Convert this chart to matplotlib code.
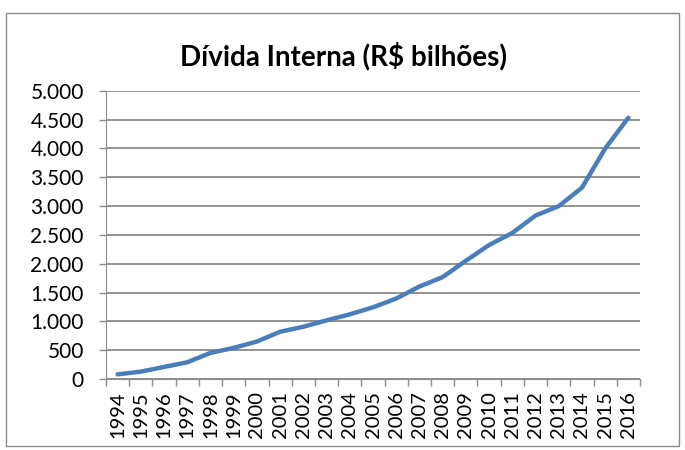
import numpy as np
import matplotlib
matplotlib.use("Agg")
import matplotlib.pyplot as plt
from matplotlib.patches import Rectangle
from matplotlib.ticker import FuncFormatter, FixedLocator

plt.rcParams['font.family'] = ['Lato', 'DejaVu Sans']

# Dívida interna, R$ bilhões
anos = [str(a) for a in range(1994, 2017)]
divida = [81, 128, 209, 290, 453, 540, 650, 820, 906, 1017, 1121, 1243,
          1395, 1604, 1767, 2051, 2324, 2533, 2835, 2998, 3318, 3997, 4532]

W, H = 685, 450
fig = plt.figure(figsize=(W / 100, H / 100), dpi=100)

# borda cinza do gráfico
fig.patches.append(Rectangle((5.7 / W, 1 - 446 / H), (679 - 5.7) / W, (446 - 13) / H,
                             transform=fig.transFigure, fill=False,
                             edgecolor='#8c8c8c', linewidth=1))

ax = fig.add_axes([106 / W, 1 - 379 / H, (640 - 106) / W, (379 - 90.7) / H])

x = np.arange(len(anos))
ax.plot(x, divida, color='#4A7EBB', linewidth=3.2, solid_capstyle='round')

ax.set_xlim(-0.5, len(anos) - 0.5)
ax.set_ylim(0, 5000)
ax.set_yticks(np.arange(0, 5001, 500))
ax.yaxis.set_major_formatter(FuncFormatter(lambda v, p: f"{int(v):,}".replace(",", ".")))

ax.set_xticks(x)
ax.set_xticklabels(anos, rotation=90)
ax.xaxis.set_minor_locator(FixedLocator(np.arange(-0.5, len(anos), 1)))
ax.tick_params(axis='x', which='major', length=0, pad=9, labelsize=14.5)
ax.tick_params(axis='x', which='minor', length=5, width=1, color='#8c8c8c')
ax.tick_params(axis='y', length=5, width=1, color='#8c8c8c', labelsize=15, pad=11)

ax.grid(axis='y', color='#8a8a8a', linewidth=1.3)
ax.set_axisbelow(True)
for s in ['top', 'right']:
    ax.spines[s].set_visible(False)
ax.spines['left'].set_color('#8c8c8c')
ax.spines['bottom'].set_color('#8c8c8c')

fig.text(344 / W, 1 - 65 / H, 'Dívida Interna (R$ bilhões)', ha='center', va='baseline',
         fontsize=20, fontweight='bold')

fig.savefig('out.png', dpi=100)
